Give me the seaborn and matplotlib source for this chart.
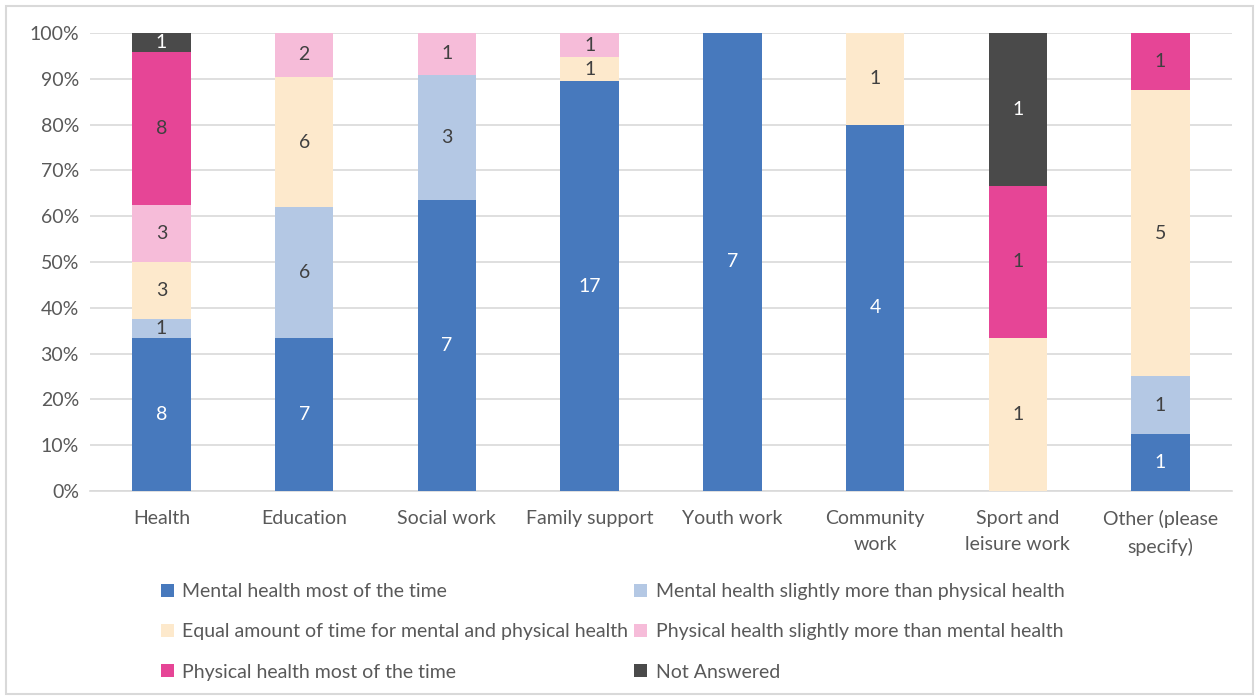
import numpy as np
import pandas as pd
import matplotlib.pyplot as plt
import seaborn as sns
from matplotlib.patches import Rectangle

categories = ["Health", "Education", "Social work", "Family support", "Youth work",
              "Community\nwork", "Sport and\nleisure work", "Other (please\nspecify)"]
series_names = ["Mental health most of the time",
                "Mental health slightly more than physical health",
                "Equal amount of time for mental and physical health",
                "Physical health slightly more than mental health",
                "Physical health most of the time",
                "Not Answered"]
mental_most = [8, 7, 7, 17, 7, 4, 0, 1]
mental_slightly = [1, 6, 3, 0, 0, 0, 0, 1]
equal_time = [3, 6, 0, 1, 0, 1, 1, 5]
physical_slightly = [3, 2, 1, 1, 0, 0, 0, 0]
physical_most = [8, 0, 0, 0, 0, 0, 1, 1]
not_answered = [1, 0, 0, 0, 0, 0, 1, 0]

colors = ["#4779bd", "#b4c8e4", "#fde9cc", "#f6bcd9", "#e64596", "#4a4a4a"]
text_colors = ["white", "#404040", "#404040", "#404040", "#404040", "white"]

counts = pd.DataFrame(
    np.array([mental_most, mental_slightly, equal_time,
              physical_slightly, physical_most, not_answered]).T,
    index=categories, columns=series_names)
pct = counts.div(counts.sum(axis=1), axis=0) * 100

sns.set_style("white")
plt.rcParams["font.family"] = ["Lato", "DejaVu Sans"]

fig = plt.figure(figsize=(12.59, 7), dpi=100)
ax = fig.add_axes([0.0715, 0.2986, 0.907, 0.6543])

bottom = np.zeros(len(categories))
handles = []
for i, name in enumerate(series_names):
    sns.barplot(x=categories, y=pct[name].values, bottom=bottom, color=colors[i],
                width=0.41, ax=ax, saturation=1, zorder=3, linewidth=0)
    cont = ax.containers[-1]
    labels = [str(v) if v > 0 else "" for v in counts[name].values]
    ax.bar_label(cont, labels=labels, label_type="center", color=text_colors[i],
                 fontsize=14)
    handles.append(cont)
    bottom = bottom + pct[name].values

if ax.get_legend() is not None:
    ax.get_legend().remove()

ax.set_ylim(0, 100)
ax.set_xlim(-0.5, len(categories) - 0.5)
ax.set_yticks(np.arange(0, 101, 10))
ax.set_yticklabels([f"{t}%" for t in range(0, 101, 10)])
ax.yaxis.grid(True, color="#d9d9d9", linewidth=1.2, zorder=0)
ax.set_axisbelow(True)
for s in ["top", "right", "left"]:
    ax.spines[s].set_visible(False)
ax.spines["bottom"].set_color("#d9d9d9")
ax.spines["bottom"].set_linewidth(1.2)
ax.tick_params(axis="y", length=0, labelsize=14, colors="#595959", pad=8)
ax.tick_params(axis="x", length=0, labelsize=14, colors="#595959", pad=14)
for lbl in ax.get_xticklabels():
    lbl.set_linespacing(1.6)
ax.set_xlabel("")
ax.set_ylabel("")

order = [0, 2, 4, 1, 3, 5]
fig.legend([handles[i] for i in order], [series_names[i] for i in order],
           ncol=2, loc="upper left", bbox_to_anchor=(0.114, 0.192),
           frameon=False, fontsize=14, labelcolor="#595959",
           handlelength=0.65, handleheight=0.65, handletextpad=0.45,
           columnspacing=0.3, labelspacing=1.2)

fig.patches.append(Rectangle((0.005, 0.008), 0.99, 0.984, transform=fig.transFigure,
                             fill=False, edgecolor="#d9d9d9", linewidth=1.5))

fig.savefig("out.png", dpi=100)
